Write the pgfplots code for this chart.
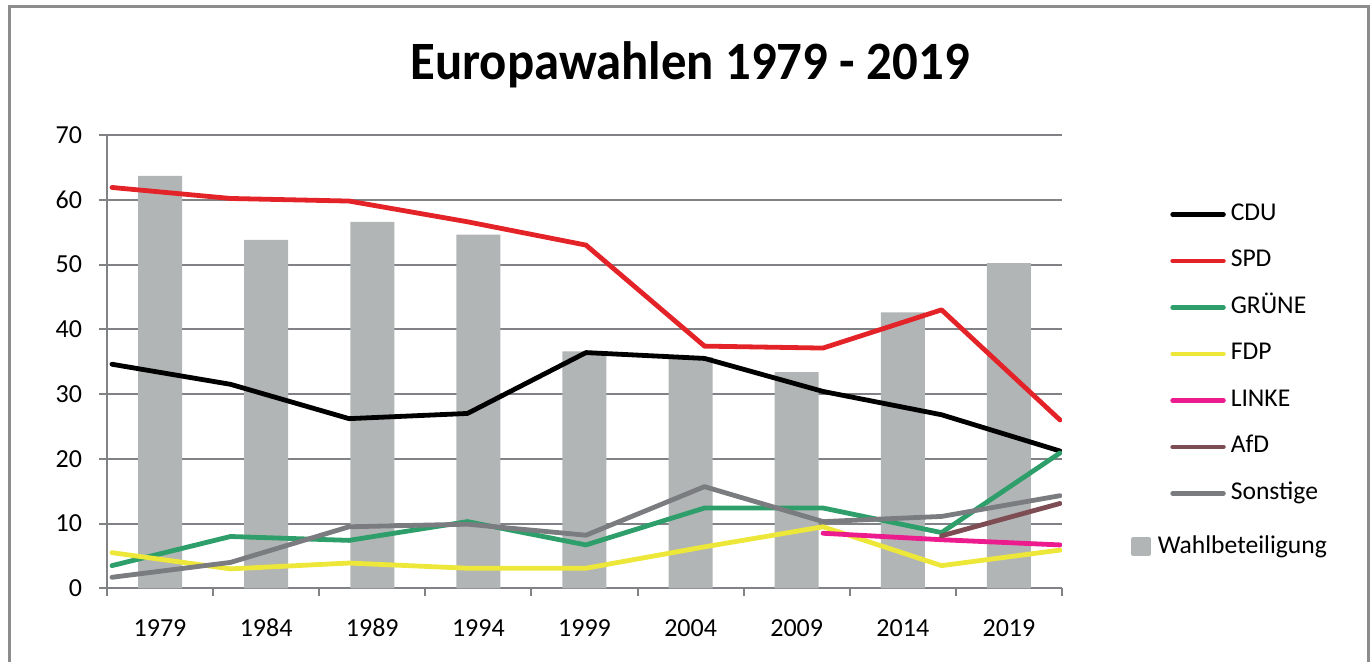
\documentclass[border=0pt]{standalone}
\usepackage{fontspec}
\setmainfont{Carlito}
\usepackage{pgfplots}
\pgfplotsset{compat=1.18}

\definecolor{barcol}{HTML}{B2B5B6}
\definecolor{gridcol}{HTML}{808285}
\definecolor{framecol}{HTML}{8A8C8E}
\definecolor{spd}{HTML}{E42328}
\definecolor{gruene}{HTML}{2E9E6A}
\definecolor{fdp}{HTML}{EDE73A}
\definecolor{linke}{HTML}{EC1C8E}
\definecolor{afd}{HTML}{7D4D53}
\definecolor{sonst}{HTML}{7A7C7F}

\begin{document}
\begin{tikzpicture}
\useasboundingbox (0,0) rectangle (686pt,-331pt);
\draw[framecol, line width=1.5pt] (4.5pt,-3.5pt) rectangle (684pt,-345pt);
\node[anchor=base, font=\bfseries\fontsize{27}{30}\selectfont, xscale=0.94]
  at (345pt,-40pt) {Europawahlen 1979 - 2019};
\begin{axis}[
    at={(53.5pt,-294.15pt)}, anchor=south west,
    scale only axis, width=477.5pt, height=226.65pt,
    xmin=0, xmax=9, ymin=0, ymax=70,
    axis lines=left,
    axis line style={-, gridcol, line width=1pt},
    ytick={0,10,...,70},
    xtick={0,1,...,9}, xticklabels={},
    extra x ticks={0.5,1.5,...,8.5},
    extra x tick labels={1979,1984,1989,1994,1999,2004,2009,2014,2019},
    extra x tick style={major tick length=0pt, grid=none,
        xticklabel style={anchor=base, yshift=-24pt, text height=9pt, text depth=2pt}},
    tick align=outside, major tick length=4pt,
    tick style={gridcol, line width=1pt},
    ymajorgrids, grid style={gridcol, line width=1pt},
    /pgf/number format/assume math mode=true,
    ticklabel style={font=\fontsize{13}{15}\selectfont},
    yticklabel style={xshift=-5pt},
    legend cell align=left,
    legend style={at={(1.072,0.85)}, anchor=north west, draw=none, fill=none,
        inner sep=0pt, row sep=12.25pt, column sep=2.5pt,
        font=\fontsize{12.8}{15}\selectfont,
        nodes={inner sep=0pt, text height=8.5pt, text depth=2.5pt}},
    legend image code/.code={\draw[#1, line width=2.2pt, line cap=round] (0pt,0pt) -- (25.5pt,0pt);},
    every axis plot/.append style={line width=2.4pt, line join=round, line cap=round},
]
% Wahlbeteiligung
\addplot[ybar, bar width=22pt, bar shift=0pt, fill=barcol, draw=none, forget plot] coordinates {
(0.5,63.7) (1.5,53.8) (2.5,56.6) (3.5,54.6) (4.5,36.6) (5.5,35.7) (6.5,33.4) (7.5,42.6) (8.5,50.2)};
\addplot[black] coordinates {
(0.047,34.6) (1.164,31.5) (2.281,26.2) (3.397,27.0) (4.514,36.4) (5.631,35.5) (6.748,30.4) (7.865,26.8) (8.981,21.2)};
\addlegendentry{CDU}
\addplot[spd] coordinates {
(0.047,61.9) (1.164,60.2) (2.281,59.8) (3.397,56.6) (4.514,53.0) (5.631,37.4) (6.748,37.1) (7.865,43.0) (8.981,26.0)};
\addlegendentry{SPD}
\addplot[gruene] coordinates {
(0.047,3.5) (1.164,8.0) (2.281,7.4) (3.397,10.3) (4.514,6.7) (5.631,12.4) (6.748,12.4) (7.865,8.6) (8.981,20.9)};
\addlegendentry{GRÜNE}
\addplot[fdp] coordinates {
(0.047,5.5) (1.164,3.0) (2.281,3.9) (3.397,3.1) (4.514,3.1) (5.631,6.4) (6.748,9.5) (7.865,3.5) (8.981,5.9)};
\addlegendentry{FDP}
\addplot[linke] coordinates {
(6.748,8.5) (7.865,7.5) (8.981,6.7)};
\addlegendentry{LINKE}
\addplot[afd] coordinates {
(7.865,8.1) (8.981,13.1)};
\addlegendentry{AfD}
\addplot[sonst] coordinates {
(0.047,1.7) (1.164,4.0) (2.281,9.5) (3.397,9.9) (4.514,8.2) (5.631,15.7) (6.748,10.3) (7.865,11.1) (8.981,14.3)};
\addlegendentry{Sonstige}
\addlegendimage{legend image code/.code={\fill[barcol] (-19.5pt,-7pt) rectangle (-12pt,0.5pt);}}
\addlegendentry{\raisebox{-3.75pt}{\hspace*{-36.5pt}Wahlbeteiligung}}
\end{axis}
\end{tikzpicture}
\end{document}
